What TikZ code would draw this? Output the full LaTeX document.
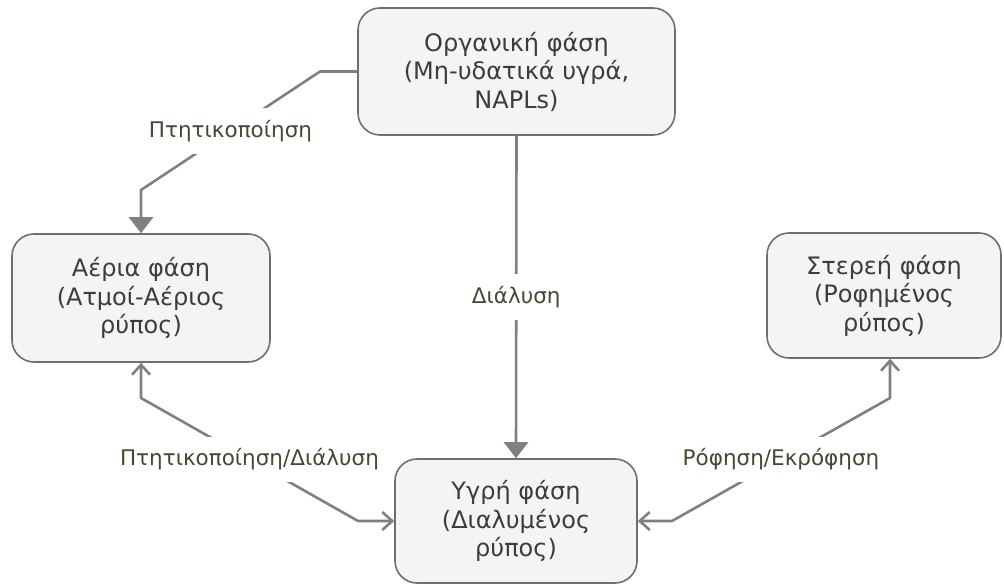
\documentclass[tikz,border=0pt]{standalone}
\usepackage{fontspec}
\setmainfont{DejaVu Sans}
\usetikzlibrary{arrows.meta}
\definecolor{perigramma}{HTML}{6E6E6E}
\definecolor{gemisma}{HTML}{F4F4F4}
\definecolor{grammi}{HTML}{808080}
\definecolor{keimeno}{HTML}{3C3C3C}
\definecolor{etiketa}{HTML}{4B4632}
\begin{document}
\begin{tikzpicture}[x=1pt,y=-1pt,line join=round]
	\tikzset{fasi/.style={draw=perigramma,line width=1.6pt,fill=gemisma,rounded corners=22pt,align=center,text=keimeno,font=\fontsize{24}{28.5}\selectfont,inner sep=0pt},
		roi/.style={draw=grammi,line width=2.6pt},
		etik/.style={fill=white,text=etiketa,font=\fontsize{21.5}{24}\selectfont,inner xsep=4pt,inner ysep=12pt},
		gemato/.style={-{Triangle[length=16pt,width=24pt]}},
		anoikto/.style={{Straight Barb[length=10pt,width=18pt]}-{Straight Barb[length=10pt,width=18pt]}}}
	\useasboundingbox (0,0) rectangle (1004,586);
	
	% Οι τέσσερις φάσεις
	\path (516.5,71.5) node[fasi,minimum width=317pt,minimum height=127pt] (Org) {Οργανική φάση\\(Μη-υδατικά υγρά,\\NAPLs)}
	(141,298) node[fasi,minimum width=258pt,minimum height=128pt] (Aer) {Αέρια φάση\\(Ατμοί-Αέριος\\ρύπος)}
	(884,295.5) node[fasi,minimum width=234pt,minimum height=125pt] (Ster) {Στερεή φάση\\(Ροφημένος\\ρύπος)}
	(516,521) node[fasi,minimum width=242pt,minimum height=124pt] (Ygr) {Υγρή φάση\\(Διαλυμένος\\ρύπος)};
	
	% Σημεία καμπής
	\coordinate (k1) at (320,71.5);
	\coordinate (k2) at (141,190);
	\coordinate (k3) at (141,398);
	\coordinate (k4) at (358,521);
	\coordinate (k5) at (672,521);
	\coordinate (k6) at (890,398);
	\coordinate (k7) at ([xshift=6pt]Ster.south);
	
	% Μεταβάσεις
	\draw[roi,gemato] (Org.west) -- (k1) -- node[etik]{Πτητικοποίηση} (k2) -- (Aer.north);
	\draw[roi,gemato] (Org.south) -- node[etik]{Διάλυση} (Ygr.north);
	\draw[roi,anoikto] (Aer.south) -- (k3) -- node[etik]{Πτητικοποίηση/Διάλυση} (k4) -- (Ygr.west);
	\draw[roi,anoikto] (Ygr.east) -- (k5) -- node[etik]{Ρόφηση/Εκρόφηση} (k6) -- (k7);
\end{tikzpicture}
\end{document}
